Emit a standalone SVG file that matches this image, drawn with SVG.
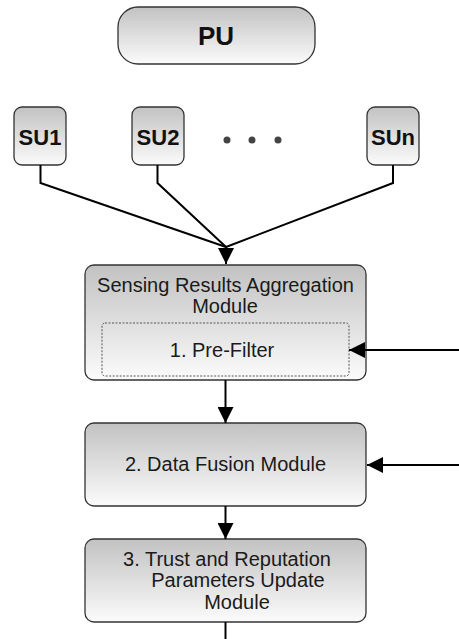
<svg xmlns="http://www.w3.org/2000/svg" width="459" height="639" viewBox="0 0 459 639">
  <defs>
    <linearGradient id="g" x1="0" y1="0" x2="0" y2="1">
      <stop offset="0" stop-color="#c2c2c2"/>
      <stop offset="1" stop-color="#fbfbfb"/>
    </linearGradient>
    <marker id="ah" viewBox="0 0 16 16" refX="16" refY="8" markerWidth="16" markerHeight="16" markerUnits="userSpaceOnUse" orient="auto">
      <path d="M0,0 L16,8 L0,16 Z" fill="#000"/>
    </marker>
  </defs>
  <style>
    .box { fill: url(#g); stroke: #333; stroke-width: 1.3; }
    .lbl { font-family: "Liberation Sans", Arial, sans-serif; font-size: 20px; fill: #1a1a1a; text-anchor: middle; }
    .bold { font-family: "Liberation Sans", Arial, sans-serif; font-weight: bold; fill: #111; text-anchor: middle; }
    .conn { fill: none; stroke: #000; stroke-width: 2; }
  </style>
  <rect width="459" height="639" fill="#fff"/>

  <g id="PU">
    <rect class="box" x="118" y="7" width="197" height="57" rx="20"/>
    <text class="bold" x="216" y="45" font-size="26">PU</text>
  </g>
  <g id="SU1">
    <rect class="box" x="14" y="107" width="52" height="58" rx="8"/>
    <text class="bold" x="40" y="145" font-size="22">SU1</text>
  </g>
  <g id="SU2">
    <rect class="box" x="132" y="107" width="52" height="58" rx="8"/>
    <text class="bold" x="158" y="145" font-size="22">SU2</text>
  </g>
  <g id="dots" fill="#444">
    <circle cx="227" cy="140" r="3.5"/>
    <circle cx="252" cy="140" r="3.5"/>
    <circle cx="278" cy="140" r="3.5"/>
  </g>
  <g id="SUn">
    <rect class="box" x="367" y="107" width="52" height="58" rx="8"/>
    <text class="bold" x="393" y="145" font-size="22">SUn</text>
  </g>

  <g id="aggregation">
    <rect class="box" x="85" y="265" width="281" height="115" rx="9"/>
    <text class="lbl" x="225.5" y="292">Sensing Results Aggregation</text>
    <text class="lbl" x="225" y="313">Module</text>
  </g>
  <g id="prefilter">
    <rect x="102" y="323" width="247" height="53" rx="3" fill="none" stroke="#555" stroke-width="1" stroke-dasharray="2,1.5"/>
    <text class="lbl" x="222" y="357">1. Pre-Filter</text>
  </g>
  <g id="fusion">
    <rect class="box" x="85" y="423" width="281" height="83" rx="9"/>
    <text class="lbl" x="225.5" y="471">2. Data Fusion Module</text>
  </g>
  <g id="trust">
    <rect class="box" x="85" y="539" width="281" height="83" rx="9"/>
    <text class="lbl" x="227" y="566">3. Trust and Reputation</text>
    <text class="lbl" x="238" y="587">Parameters Update</text>
    <text class="lbl" x="237" y="609">Module</text>
  </g>

  <g id="connectors">
    <polyline class="conn" points="40.5,165 40.5,183 226,247"/>
    <polyline class="conn" points="157.5,165 157.5,183 226,247"/>
    <polyline class="conn" points="393,165 393,183 226,247"/>
    <line class="conn" x1="226" y1="246" x2="226" y2="264" marker-end="url(#ah)"/>
    <line class="conn" x1="459" y1="350" x2="349" y2="350" marker-end="url(#ah)"/>
    <line class="conn" x1="225.5" y1="380" x2="225.5" y2="423" marker-end="url(#ah)"/>
    <line class="conn" x1="459" y1="465" x2="367" y2="465" marker-end="url(#ah)"/>
    <line class="conn" x1="225.5" y1="506" x2="225.5" y2="539" marker-end="url(#ah)"/>
    <line class="conn" x1="225.5" y1="622" x2="225.5" y2="639"/>
  </g>
</svg>
